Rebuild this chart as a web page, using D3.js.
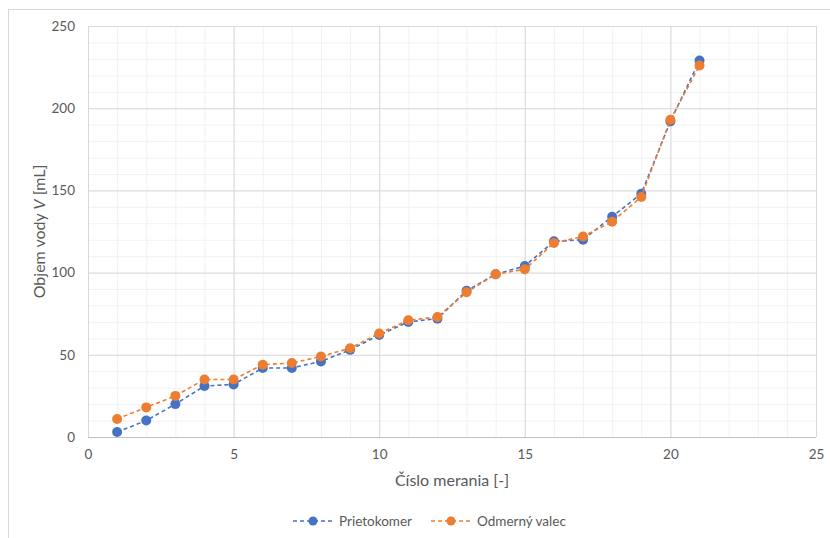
<!DOCTYPE html>
<html lang="sk">
<head>
<meta charset="utf-8"/>
<title>Objem vody</title>
<script src="https://d3js.org/d3.v7.min.js"></script>
<style>
  body { margin: 0; background: #fff; }
  text { font-family: Lato, "Open Sans", sans-serif; fill: #595959; }
  .grid-minor line { stroke: #f2f2f2; }
  .grid-major line { stroke: #d9d9d9; }
  .axis path, .axis line { display: none; }
  .axis text { font-size: 13.5px; }
  .series { fill: none; stroke-width: 1.6; stroke-dasharray: 4,3; }
</style>
</head>
<body>
<div id="chart"></div>
<script>
  // measurement number
  var meranie = [1, 2, 3, 4, 5, 6, 7, 8, 9, 10, 11, 12, 13, 14, 15, 16, 17, 18, 19, 20, 21];
  // volumes [mL]
  var prietokomer = [3, 10, 20, 31, 32, 42, 42, 46, 53, 62, 70, 72, 89, 99, 104, 119, 120, 134, 148, 192, 229];
  var odmernyValec = [11, 18, 25, 35, 35, 44, 45, 49, 54, 63, 71, 73, 88, 99, 102, 118, 122, 131, 146, 193, 226];
  var xTicks = [0, 5, 10, 15, 20, 25];
  var yTicks = [0, 50, 100, 150, 200, 250];

  var W = 830, H = 538;
  var margin = { top: 26, right: 14, bottom: 101, left: 88 },
    width = W - margin.left - margin.right,
    height = H - margin.top - margin.bottom;

  var svg = d3.select("#chart").append("svg")
    .attr("width", W)
    .attr("height", H);

  // outer chart frame
  svg.append("rect")
    .attr("x", 8.5).attr("y", 9.5)
    .attr("width", 900).attr("height", 600)
    .attr("fill", "none").attr("stroke", "#d9d9d9");

  var g = svg.append("g")
    .attr("transform", "translate(" + margin.left + "," + margin.top + ")");

  var x = d3.scaleLinear().domain([0, 25]).range([0, width]);
  var y = d3.scaleLinear().domain([0, 250]).range([height, 0]);

  // minor grid
  g.append("g").attr("class", "grid-minor")
    .call(d3.axisBottom(x).ticks(25).tickSize(height).tickFormat(""))
    .call(function(s) { s.select(".domain").remove(); });
  g.append("g").attr("class", "grid-minor")
    .call(d3.axisLeft(y).ticks(25).tickSize(-width).tickFormat(""))
    .call(function(s) { s.select(".domain").remove(); });

  // major grid
  g.append("g").attr("class", "grid-major")
    .call(d3.axisBottom(x).tickValues(xTicks).tickSize(height).tickFormat(""))
    .call(function(s) { s.select(".domain").remove(); });
  g.append("g").attr("class", "grid-major")
    .call(d3.axisLeft(y).tickValues(yTicks).tickSize(-width).tickFormat(""))
    .call(function(s) { s.select(".domain").remove(); });

  // bottom axis line
  g.append("line")
    .attr("x1", 0).attr("x2", width)
    .attr("y1", height + 0.5).attr("y2", height + 0.5)
    .attr("stroke", "#bfbfbf");

  g.append("g").attr("class", "axis")
    .attr("transform", "translate(0," + height + ")")
    .call(d3.axisBottom(x).tickValues(xTicks).tickSize(0).tickPadding(12));

  g.append("g").attr("class", "axis")
    .call(d3.axisLeft(y).tickValues(yTicks).tickSize(0).tickPadding(13));

  // axis titles
  svg.append("text")
    .attr("x", margin.left + width / 2)
    .attr("y", 486)
    .attr("text-anchor", "middle")
    .style("font-size", "16px")
    .text("Číslo merania [-]");

  var yt = svg.append("text")
    .attr("transform", "translate(45," + (margin.top + height / 2) + ") rotate(-90)")
    .attr("text-anchor", "middle")
    .style("font-size", "16px");
  yt.append("tspan").text("Objem vody ");
  yt.append("tspan").style("font-style", "italic").text("V");
  yt.append("tspan").text(" [mL]");

  var series = [
    { name: "Prietokomer", values: prietokomer, color: "#4472c4" },
    { name: "Odmerný valec", values: odmernyValec, color: "#ed7d31" }
  ];

  var line = d3.line()
    .x(function(d) { return x(d[0]); })
    .y(function(d) { return y(d[1]); });

  series.forEach(function(s) {
    var pts = meranie.map(function(m, i) { return [m, s.values[i]]; });
    g.append("path")
      .datum(pts)
      .attr("class", "series")
      .attr("stroke", s.color)
      .attr("d", line);
    g.selectAll(null)
      .data(pts)
      .enter().append("circle")
        .attr("cx", function(d) { return x(d[0]); })
        .attr("cy", function(d) { return y(d[1]); })
        .attr("r", 5)
        .attr("fill", s.color);
  });

  // legend
  var legend = svg.append("g").attr("transform", "translate(0,521)");
  var lx = [293, 431];
  series.forEach(function(s, i) {
    var lg = legend.append("g").attr("transform", "translate(" + lx[i] + ",0)");
    lg.append("line")
      .attr("x1", 0).attr("x2", 40)
      .attr("stroke", s.color)
      .attr("stroke-width", 1.6)
      .attr("stroke-dasharray", "4,3");
    lg.append("circle").attr("cx", 20).attr("r", 4.5).attr("fill", s.color);
    lg.append("text")
      .attr("x", 46).attr("dy", "0.35em")
      .style("font-size", "13.5px")
      .text(s.name);
  });
</script>
</body>
</html>
